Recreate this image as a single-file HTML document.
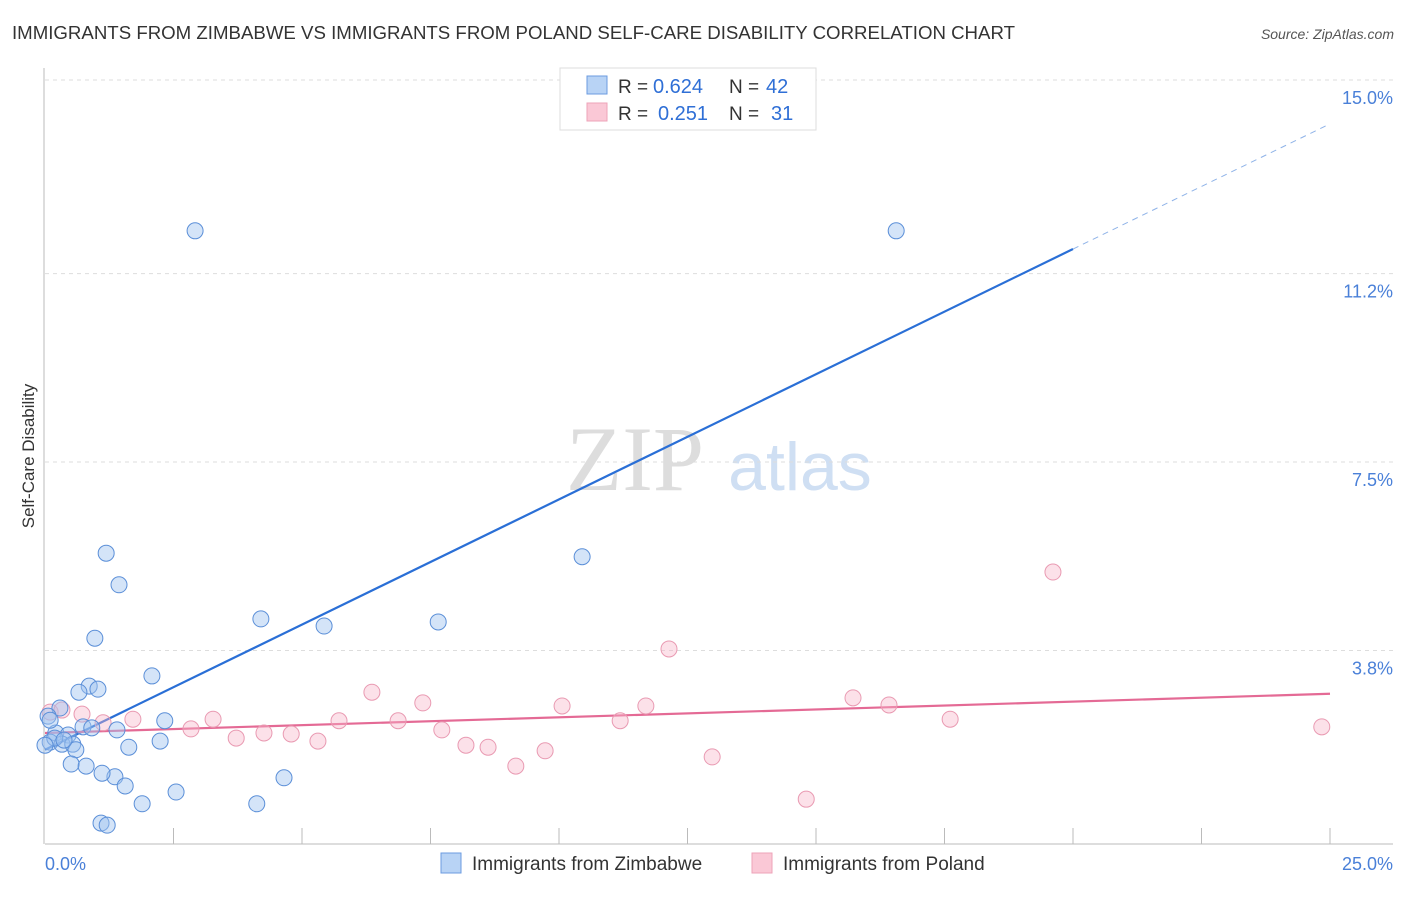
<!DOCTYPE html>
<html><head><meta charset="utf-8"><style>
body{margin:0;background:#fff;font-family:"Liberation Sans",sans-serif;}
</style></head><body>
<svg width="1406" height="892" xmlns="http://www.w3.org/2000/svg">
<text x="12" y="39" font-size="18" fill="#333" textLength="1003" lengthAdjust="spacingAndGlyphs">IMMIGRANTS FROM ZIMBABWE VS IMMIGRANTS FROM POLAND SELF-CARE DISABILITY CORRELATION CHART</text>
<text x="1394" y="39" font-size="14" fill="#555" font-style="italic" text-anchor="end">Source: ZipAtlas.com</text>
<g>
<text x="635" y="490" font-size="92" font-family="Liberation Serif,serif" fill="#ddd" text-anchor="middle">ZIP</text>
<text x="800" y="490" font-size="68" fill="#cfdff3" text-anchor="middle">atlas</text>
</g>
<g id="grid"></g>
<g id="axes"></g>
<text transform="translate(34,456) rotate(-90)" font-size="17" fill="#333" text-anchor="middle">Self-Care Disability</text>
<g id="lines"></g>
<g id="points"></g>
<g>
<rect x="560" y="68" width="256" height="62" fill="#fff" stroke="#ddd"/>
<rect x="587" y="76" width="20" height="18" fill="#b8d3f5" stroke="#6b9be0"/>
<rect x="587" y="103" width="20" height="18" fill="#fac8d6" stroke="#eea3b8"/>
<text x="618" y="93" font-size="19" fill="#333">R =</text>
<text x="653" y="93" font-size="20" fill="#2f6fd6">0.624</text>
<text x="729" y="93" font-size="19" fill="#333">N =</text>
<text x="766" y="93" font-size="20" fill="#2f6fd6">42</text>
<text x="618" y="120" font-size="19" fill="#333">R =</text>
<text x="658" y="120" font-size="20" fill="#2f6fd6">0.251</text>
<text x="729" y="120" font-size="19" fill="#333">N =</text>
<text x="771" y="120" font-size="20" fill="#2f6fd6">31</text>
</g>
<g>
<rect x="441" y="853" width="20" height="20" fill="#b8d3f5" stroke="#6b9be0"/>
<text x="472" y="870" font-size="19" fill="#333">Immigrants from Zimbabwe</text>
<rect x="752" y="853" width="20" height="20" fill="#fac8d6" stroke="#eea3b8"/>
<text x="783" y="870" font-size="19" fill="#333">Immigrants from Poland</text>
</g>
</svg>
<script>
const yTicks=[15.0,11.2,7.5,3.8];
const yTickLabels=["15.0%","11.2%","7.5%","3.8%"];
const xTickLabels=["0.0%","25.0%"];
const zimX=[2.92,16.56,1.19,1.44,10.45,0.97,4.20,5.43,7.65,2.08,0.86,1.03,0.66,0.29,0.06,2.33,0.74,0.91,1.40,0.21,0.45,0.10,0.33,0.54,2.24,0.60,1.63,0.51,0.80,1.36,1.11,1.56,2.55,1.89,4.12,4.65,1.09,1.21,0.10,0.19,0.37,0.0];
const zimY=[12.04,12.04,5.71,5.09,5.64,4.04,4.42,4.28,4.36,3.30,3.10,3.04,2.98,2.67,2.51,2.42,2.30,2.28,2.24,2.18,2.14,2.00,1.96,1.96,2.02,1.85,1.90,1.57,1.53,1.32,1.39,1.14,1.02,0.79,0.79,1.30,0.41,0.37,2.43,2.08,2.04,1.94];
const polX=[0.10,0.33,0.72,1.71,1.13,2.84,3.27,3.72,4.26,4.79,5.31,5.72,6.36,6.87,7.35,7.72,8.19,8.62,9.16,9.73,10.06,11.19,11.69,12.14,12.98,14.81,15.72,16.42,17.61,19.61,24.84];
const polY=[2.59,2.63,2.55,2.45,2.38,2.26,2.45,2.08,2.18,2.16,2.02,2.42,2.98,2.42,2.77,2.24,1.94,1.90,1.53,1.83,2.71,2.42,2.71,3.83,1.71,0.88,2.87,2.73,2.45,5.34,2.30];
const zimTrend=[1.85,0.4916];
const polTrend=[2.18,0.0308];
const NS="http://www.w3.org/2000/svg";
const X=v=>45+v*51.4, Y=v=>844-v*50.93;
function mk(t,a,p){const e=document.createElementNS(NS,t);for(const k in a)e.setAttribute(k,a[k]);document.getElementById(p).appendChild(e);return e;}
yTicks.forEach((t,i)=>{
 const g=mk('line',{x1:45,x2:1393,y1:Y(t),y2:Y(t),stroke:'#ddd','stroke-dasharray':'4,4'},'grid');
 
 
 const l=mk('text',{x:1393,y:Y(t)+24,'font-size':18,fill:'#4a80d8','text-anchor':'end'},'grid');
 l.textContent=yTickLabels[i];
 
 
});
mk('line',{x1:44,x2:44,y1:68,y2:844,stroke:'#bbb'},'axes');
mk('line',{x1:45,x2:1393,y1:844,y2:844,stroke:'#bbb'},'axes');
for(let i=1;i<=10;i++){const tk=mk('line',{x1:X(i*2.5),x2:X(i*2.5),y1:828,y2:844,stroke:'#bbb'},'axes');
 
 }
[[0,'start',45],[1,'end',1393]].forEach(([i,a,x])=>{const t=mk('text',{x:x,y:870,'font-size':18,fill:'#4a80d8','text-anchor':a},'axes');t.textContent=xTickLabels[i];
 
 });
function pts(xs,ys,fill,stroke,name){xs.forEach((x,i)=>{const c=mk('circle',{cx:X(x),cy:Y(ys[i]),r:8,fill:fill,stroke:stroke,'stroke-width':1},'points');
 
 });}
pts(polX,polY,'rgba(248,180,200,0.4)','#e99ab2','point-poland');
pts(zimX,zimY,'rgba(160,196,240,0.45)','#5b8fd8','point-zimbabwe');
const zl=mk('line',{x1:X(0),y1:Y(zimTrend[0]),x2:X(20),y2:Y(zimTrend[0]+20*zimTrend[1]),stroke:'#2a6fd6','stroke-width':2.2},'lines');


const zd=mk('line',{x1:X(20),y1:Y(zimTrend[0]+20*zimTrend[1]),x2:X(25),y2:Y(zimTrend[0]+25*zimTrend[1]),stroke:'#8fb3e8','stroke-width':1,'stroke-dasharray':'6,5'},'lines');


const pl=mk('line',{x1:X(0),y1:Y(polTrend[0]),x2:X(25),y2:Y(polTrend[0]+25*polTrend[1]),stroke:'#e46a95','stroke-width':2.2},'lines');


</script>
</body></html>
